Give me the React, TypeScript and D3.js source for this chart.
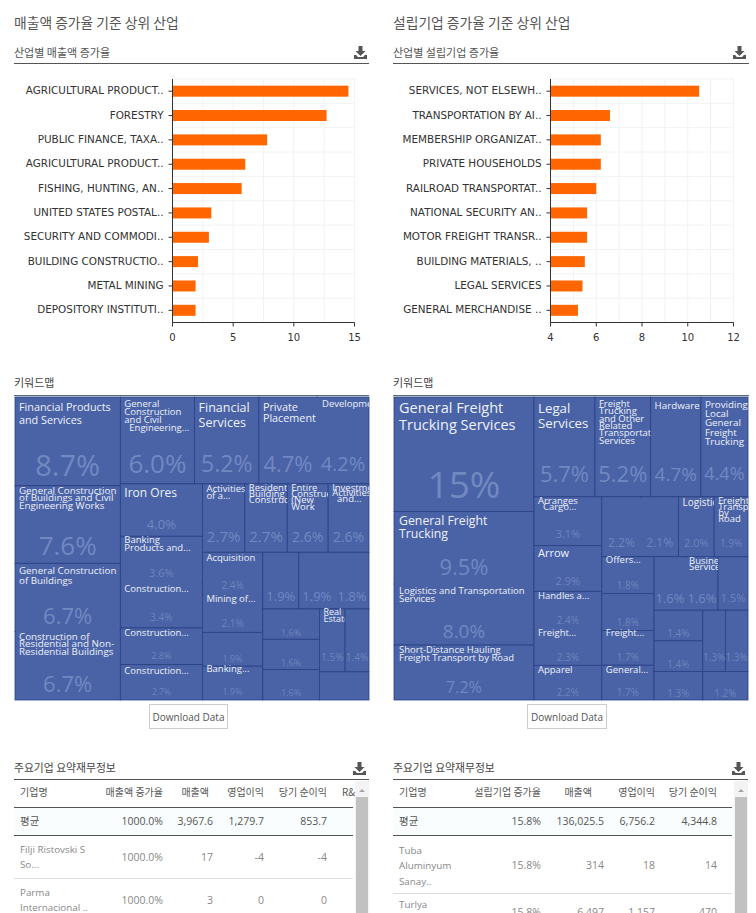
import React from "react";
import * as d3 from "d3";

const KO = '"Noto Sans CJK KR","Open Sans",sans-serif';
const LATIN = '"Open Sans","Noto Sans CJK KR",sans-serif';

// ---- bar data
const leftCategories = ["AGRICULTURAL PRODUCT..","FORESTRY","PUBLIC FINANCE, TAXA..","AGRICULTURAL PRODUCT..","FISHING, HUNTING, AN..","UNITED STATES POSTAL..","SECURITY AND COMMODI..","BUILDING CONSTRUCTIO..","METAL MINING","DEPOSITORY INSTITUTI.."];
const leftValues = [14.5,12.7,7.8,6.0,5.7,3.2,3.0,2.1,1.9,1.9];
const leftTicks = [0,5,10,15];
const rightCategories = ["SERVICES, NOT ELSEWH..","TRANSPORTATION BY AI..","MEMBERSHIP ORGANIZAT..","PRIVATE HOUSEHOLDS","RAILROAD TRANSPORTAT..","NATIONAL SECURITY AN..","MOTOR FREIGHT TRANSR..","BUILDING MATERIALS, ..","LEGAL SERVICES","GENERAL MERCHANDISE .."];
const rightValues = [10.5,6.6,6.2,6.2,6.0,5.6,5.6,5.5,5.4,5.2];
const rightTicks = [4,6,8,10,12];

// ---- treemap data: nested groups, alternating side-by-side / stacked
const leftTree = [[8.7,7.6,6.7,6.7],[[6.0,5.2,4.7,4.2],[[4.0,3.6,3.4,2.8,2.7],[[2.7,2.7,2.6,2.6],[[2.4,2.1,1.9,1.9],[[1.9,1.9,1.8],[[1.6,1.6,1.6],[[1.5,1.4],[1.3]]]]]]]]];
const leftPct = ["8.7%","7.6%","6.7%","6.7%","6.0%","5.2%","4.7%","4.2%","4.0%","3.6%","3.4%","2.8%","2.7%","2.7%","2.7%","2.6%","2.6%","2.4%","2.1%","1.9%","1.9%","1.9%","1.9%","1.8%","1.6%","1.6%","1.6%","1.5%","1.4%",""];
const leftLabels = [["Financial Products","and Services"],["General Construction","of Buildings and Civil","Engineering Works"],["General Construction","of Buildings"],["Construction of","Residential and Non-","Residential Buildings"],["General","Construction","and Civil","  Engineering..."],["Financial","Services"],["Private","Placement"],["Development"],["Iron Ores"],["Banking","Products and..."],["Construction..."],["Construction..."],["Construction..."],["Activities","of a..."],["Residential","Building","Construction"],["Entire","Construction","(New","Work"],["Investment","Activities","  and..."],["Acquisition"],["Mining of..."],[],["Banking..."],[],[],[],[],[],[],["Real","Estate"],[],[]];
const rightTree = [[15,9.5,8.0,7.2],[[5.7,5.2,4.7,4.4],[[3.1,2.9,2.4,2.3,2.2],[[2.2,2.1,2.0,1.9],[[1.8,1.8,1.7,1.7],[[1.6,1.6,1.5],[[1.4,1.4,1.3],[[1.3,1.3],[1.2]]]]]]]]];
const rightPct = ["15%","9.5%","8.0%","7.2%","5.7%","5.2%","4.7%","4.4%","3.1%","2.9%","2.4%","2.3%","2.2%","2.2%","2.1%","2.0%","1.9%","1.8%","1.8%","1.7%","1.7%","1.6%","1.6%","1.5%","1.4%","1.4%","1.3%","1.3%","1.3%","1.2%"];
const rightLabels = [["General Freight","Trucking Services"],["General Freight","Trucking"],["Logistics and Transportation","Services"],["Short-Distance Hauling","Freight Transport by Road"],["Legal","Services"],["Freight","Trucking","and Other","Related","Transportation","Services"],["Hardware"],["Providing","Local","General","Freight","Trucking"],["Arranges","  Cargo..."],["Arrow"],["Handles a..."],["Freight..."],["Apparel"],[],[],["Logistics"],["Freight","Transport","by","Road"],["Offers..."],[],["Freight..."],["General..."],[],["Business","Services"],[],[],[],[],[],[],[]];

// ---- treemap text styling, leaf by leaf: [label size, line height, first baseline offset, label x offset, percent size]
const leftStyle = [[10.8,13,14,4,29],[9.8,7.7,8,4,26],[9.8,10,11,4,22],[9.8,7.5,8,4,22],[9.5,8,10,4,26],[12.5,15,15,4,23],[10.8,11,14,4,22],[9.5,0,10,5,20],[12,0,13,4,13],[9.5,8,7,4,11],[9.5,0,9,4,10],[9.5,0,8,4,9],[9.5,0,9,4,8.5],[9.5,7.5,8,4,15],[9.5,6,7,4,15],[9.5,6.3,7,4,14],[9.5,5.5,7,4,14],[9.5,0,9,4,10],[9.5,0,7,4,10],[10,0,8,4,9],[9.5,0,6,4,9],[10,0,8,4,13],[10,0,8,4,13],[10,0,8,4,13],[10,0,8,4,9],[10,0,8,4,9],[10,0,8,4,9],[9,7,6,4,10],[9,7,6,4,10],[9,7,6,4,10]];
const rightStyle = [[14.5,17,16,5,37],[12.3,13,14,5,22],[9.5,8.5,10,5,19],[9.5,7.5,8,5,16],[13.3,15,16,4,22],[9.5,7.3,10,4,22],[9.8,0,12,4,19],[9.8,9.2,11,4,18],[9.5,6.5,7,4,11],[11,0,11,4,11],[9.5,0,8,4,10],[9.5,0,7,4,10],[9.5,0,8,4,10],[10,0,8,4,12],[10,0,8,4,12],[10,0,9,4,11],[9.5,6,7,4,10],[9.5,0,6,4,10],[10,0,8,4,10],[9.5,0,6,4,10],[9.5,0,8,4,10],[10,0,8,4,13],[9.5,6,7,3,13],[10,0,8,4,11],[10,0,8,4,10],[10,0,8,4,10],[10,0,8,4,10],[10,0,8,4,10],[10,0,8,4,10],[10,0,8,4,10]];
const leftSeamless = [[2,3],[6,7],[9,10],[17,18],[22,23]];
const rightSeamless = [[1,2],[10,11],[13,14],[21,22]];

// ---- tables
const leftHeader = ["기업명","매출액 증가율","매출액","영업이익","당기 순이익"];
const leftAvg = ["평균","1000.0%","3,967.6","1,279.7","853.7"];
const leftRows = [[["Filji Ristovski S","So..."],"1000.0%","17","-4","-4"],[["Parma","Internacional .."],"1000.0%","3","0","0"]];
const rightHeader = ["기업명","설립기업 증가율","매출액","영업이익","당기 순이익"];
const rightAvg = ["평균","15.8%","136,025.5","6,756.2","4,344.8"];
const rightRows = [[["Tuba","Aluminyum","Sanay.."],"15.8%","314","18","14"],[["Turlya",""],"15.8%","6,497","1,157","470"]];

const FILL = "#4a62a6";
const LINE = "#2c4284";

function DownloadIcon({ x, y }: { x: number; y: number }) {
  return (
    <g transform={`translate(${x},${y})`} fill="#555">
      <path d="M4.5 0h4v5h3l-5 5-5-5h3z" />
      <path d="M0 9h2.2l1.6 2h5.4l1.6-2H13v4H0z" />
    </g>
  );
}

function Bars({ cats, vals, ticks, domain, x0, x1 }: any) {
  const x = d3.scaleLinear().domain(domain).range([x0, x1]);
  const y = d3.scaleBand<number>().domain(d3.range(cats.length)).range([79, 322.5]);
  const top = y.range()[0], bot = y.range()[1];
  const minor = d3.range(domain[0], domain[1] + 1e-9, (ticks[1] - ticks[0]) / 2);
  return (
    <g>
      <g stroke="#f2f2f2" strokeWidth={1}>
        {minor.map((t: number) => <line key={t} x1={x(t)} x2={x(t)} y1={top} y2={bot} />)}
        {d3.range(cats.length + 1).map((i) => { const yy = top + i * y.step(); return <line key={i} x1={x0} x2={x1} y1={yy} y2={yy} />; })}
      </g>
      {vals.map((v: number, i: number) => (
        <rect key={i} x={x0} width={x(v) - x0} y={y(i)! + y.step() / 2 - 5.5} height={11} fill="#ff6600" />
      ))}
      <line x1={x0} x2={x0} y1={top} y2={bot} stroke="#333" />
      <line x1={x0} x2={x1} y1={bot} y2={bot} stroke="#333" />
      {cats.map((c: string, i: number) => {
        const yc = y(i)! + y.step() / 2;
        return (
          <g key={i}>
            <line x1={x0 - 4} x2={x0} y1={yc} y2={yc} stroke="#333" />
            <text x={x0 - 9} y={yc + 3} textAnchor="end" fontSize={10.4} fontFamily='"DejaVu Sans",sans-serif' fill="#333">{c}</text>
          </g>
        );
      })}
      {ticks.map((t: number) => (
        <g key={t}>
          <line x1={x(t)} x2={x(t)} y1={bot} y2={bot + 4} stroke="#333" />
          <text x={x(t)} y={341} textAnchor="middle" fontSize={10} fontFamily='"DejaVu Sans",sans-serif' fill="#333">{t}</text>
        </g>
      ))}
    </g>
  );
}

function Treemap({ id, ox, tree, pct, labels, style, seamless }: any) {
  const root = d3.hierarchy<any>(tree, (d) => (Array.isArray(d) ? d : null)).sum((d) => (typeof d === "number" ? d : 0));
  const layout = d3.treemap<any>().size([354, 303]).tile((node, a, b, c, d) => {
    (node.depth % 2 === 0 ? d3.treemapDice : d3.treemapSlice)(node, a, b, c, d);
  });
  layout(root);
  const leaves = root.leaves() as any[];
  return (
    <g transform={`translate(${ox},397)`}>
      <rect width={354} height={303} fill={FILL} />
      {leaves.map((l, i) => (
        <rect key={i} x={l.x0} y={l.y0} width={l.x1 - l.x0} height={l.y1 - l.y0} fill={FILL} stroke={LINE} strokeWidth={0.8} />
      ))}
      {seamless.map(([a, b]: number[], i: number) => {
        const A = leaves[a], B = leaves[b];
        return <rect key={i} x={A.x0 + 1} y={A.y0 + 1} width={B.x1 - A.x0 - 2} height={B.y1 - A.y0 - 2} fill={FILL} />;
      })}
      <defs>
        {leaves.map((l, i) => (
          <clipPath key={i} id={`${id}${i}`}><rect x={l.x0} y={l.y0 - 2} width={l.x1 - l.x0} height={l.y1 - l.y0 + 4} /></clipPath>
        ))}
      </defs>
      {leaves.map((l, i) => {
        const [ls, lh, dy, dx, ps] = style[i];
        return (
          <g key={i}>
            {pct[i] && (
              <text x={(l.x0 + l.x1) / 2} y={l.y0 + (l.y1 - l.y0) * 0.77 + ps * 0.36} textAnchor="middle" fontSize={ps} fontFamily={LATIN} fill={ps > 12 ? "#7189c1" : "#6d85bd"}>{pct[i]}</text>
            )}
            <g clipPath={`url(#${id}${i})`}>
              {labels[i].map((s: string, j: number) => (
                <text key={j} x={l.x0 + dx} y={l.y0 + dy + j * lh} xmlSpace="preserve" fontSize={ls} fontFamily={LATIN} fill="#eef2fa">{s}</text>
              ))}
            </g>
          </g>
        );
      })}
    </g>
  );
}

function Table({ ox, header, avg, rows, headRights, rights, rowMids, extra }: any) {
  const name = ox + 6;
  return (
    <g fontFamily={LATIN}>
      <text x={ox} y={772} fontSize={10.8} fontFamily={KO} fill="#444">주요기업 요약재무정보</text>
      <DownloadIcon x={ox + 339} y={762} />
      <line x1={ox} x2={ox + 355} y1={779.5} y2={779.5} stroke="#555" />
      <rect x={ox} y={808} width={341} height={27} fill="#f9fdfd" />
      <line x1={ox} x2={ox + 339} y1={807.5} y2={807.5} stroke="#555" />
      <line x1={ox} x2={ox + 339} y1={835.5} y2={835.5} stroke="#555" />
      {header.map((h: string, i: number) => (
        <text key={i} x={i === 0 ? name : headRights[i - 1]} y={796} textAnchor={i === 0 ? "start" : "end"} fontSize={10} fontFamily={KO} fill="#555">{h}</text>
      ))}
      {extra && <text x={ox + 328} y={796} fontSize={10} fontFamily={KO} fill="#555">{extra}</text>}
      {avg.map((h: string, i: number) => (
        <text key={i} x={i === 0 ? name : rights[i - 1]} y={825} textAnchor={i === 0 ? "start" : "end"} fontSize={10.5} fontFamily={i === 0 ? KO : LATIN} fill="#555">{h}</text>
      ))}
      {rows.map((r: any[], ri: number) => {
        const lines = r[0] as string[];
        const mid = rowMids[ri];
        return (
          <g key={ri}>
            {lines.map((s, j) => (
              <text key={j} x={name} y={mid - ((lines.length - 1) * 15.5) / 2 + j * 15.5 + 3.5} fontSize={9.8} fill="#888">{s}</text>
            ))}
            {r.slice(1).map((s: string, i: number) => (
              <text key={i} x={rights[i]} y={mid + 3.5} textAnchor="end" fontSize={10.5} fill="#888">{s}</text>
            ))}
          </g>
        );
      })}
    </g>
  );
}

function Scrollbar({ x }: { x: number }) {
  return (
    <g>
      <rect x={x} y={781} width={14} height={132} fill="#f3f3f3" />
      <rect x={x + 1} y={797} width={12} height={116} fill="#c1c1c1" />
      <path d={`M${x + 4} 792l3 -3 3 3z`} fill="#a5a5a5" />
    </g>
  );
}

export default function App() {
  return (
    <svg width={756} height={913} style={{ position: "absolute", left: 0, top: 0, background: "#fff", display: "block" }}>
      <g fontFamily={KO} fill="#555">
        <text x={14} y={28} fontSize={13.8}>매출액 증가율 기준 상위 산업</text>
        <text x={393} y={28} fontSize={13.8}>설립기업 증가율 기준 상위 산업</text>
        <text x={14} y={57} fontSize={11}>산업별 매출액 증가율</text>
        <text x={393} y={57} fontSize={11}>산업별 설립기업 증가율</text>
        <text x={14} y={387} fontSize={11} fill="#444">키워드맵</text>
        <text x={393} y={387} fontSize={11} fill="#444">키워드맵</text>
      </g>
      <DownloadIcon x={354} y={46} />
      <DownloadIcon x={733} y={46} />
      {[[14, 369], [393, 749]].map(([a, b]) => (
        <g key={a} stroke="#555">
          <line x1={a} x2={b} y1={63.5} y2={63.5} />
          <line x1={a} x2={b} y1={395.5} y2={395.5} stroke="#5b6b70" />
        </g>
      ))}
      <Bars cats={leftCategories} vals={leftValues} ticks={leftTicks} domain={[0, 15]} x0={172.5} x1={354.5} />
      <Bars cats={rightCategories} vals={rightValues} ticks={rightTicks} domain={[4, 12]} x0={550.5} x1={733.5} />

      <Treemap id="lt" ox={15} tree={leftTree} pct={leftPct} labels={leftLabels} style={leftStyle} seamless={leftSeamless} />
      <Treemap id="rt" ox={394} tree={rightTree} pct={rightPct} labels={rightLabels} style={rightStyle} seamless={rightSeamless} />

      {[[149.5, 78], [527.5, 79]].map(([x, w]) => (
        <g key={x}>
          <rect x={x} y={704.5} width={w} height={24} fill="#fff" stroke="#ccc" />
          <text x={x + w / 2} y={720.5} textAnchor="middle" fontSize={10} fontFamily={LATIN} fill="#555">Download Data</text>
        </g>
      ))}

      <Table ox={14} header={leftHeader} avg={leftAvg} rows={leftRows} headRights={[163, 209, 264, 327]} rights={[163, 213, 264, 327]} rowMids={[857, 900]} extra="R&" />
      <line x1={14} x2={353} y1={878.5} y2={878.5} stroke="#ddd" />
      <Scrollbar x={355} />
      <Table ox={393} header={rightHeader} avg={rightAvg} rows={rightRows} headRights={[541, 592, 655, 717]} rights={[541, 604, 655, 717]} rowMids={[865.5, 912]} extra="" />
      <line x1={393} x2={732} y1={893.5} y2={893.5} stroke="#ddd" />
      <Scrollbar x={734} />
    </svg>
  );
}
